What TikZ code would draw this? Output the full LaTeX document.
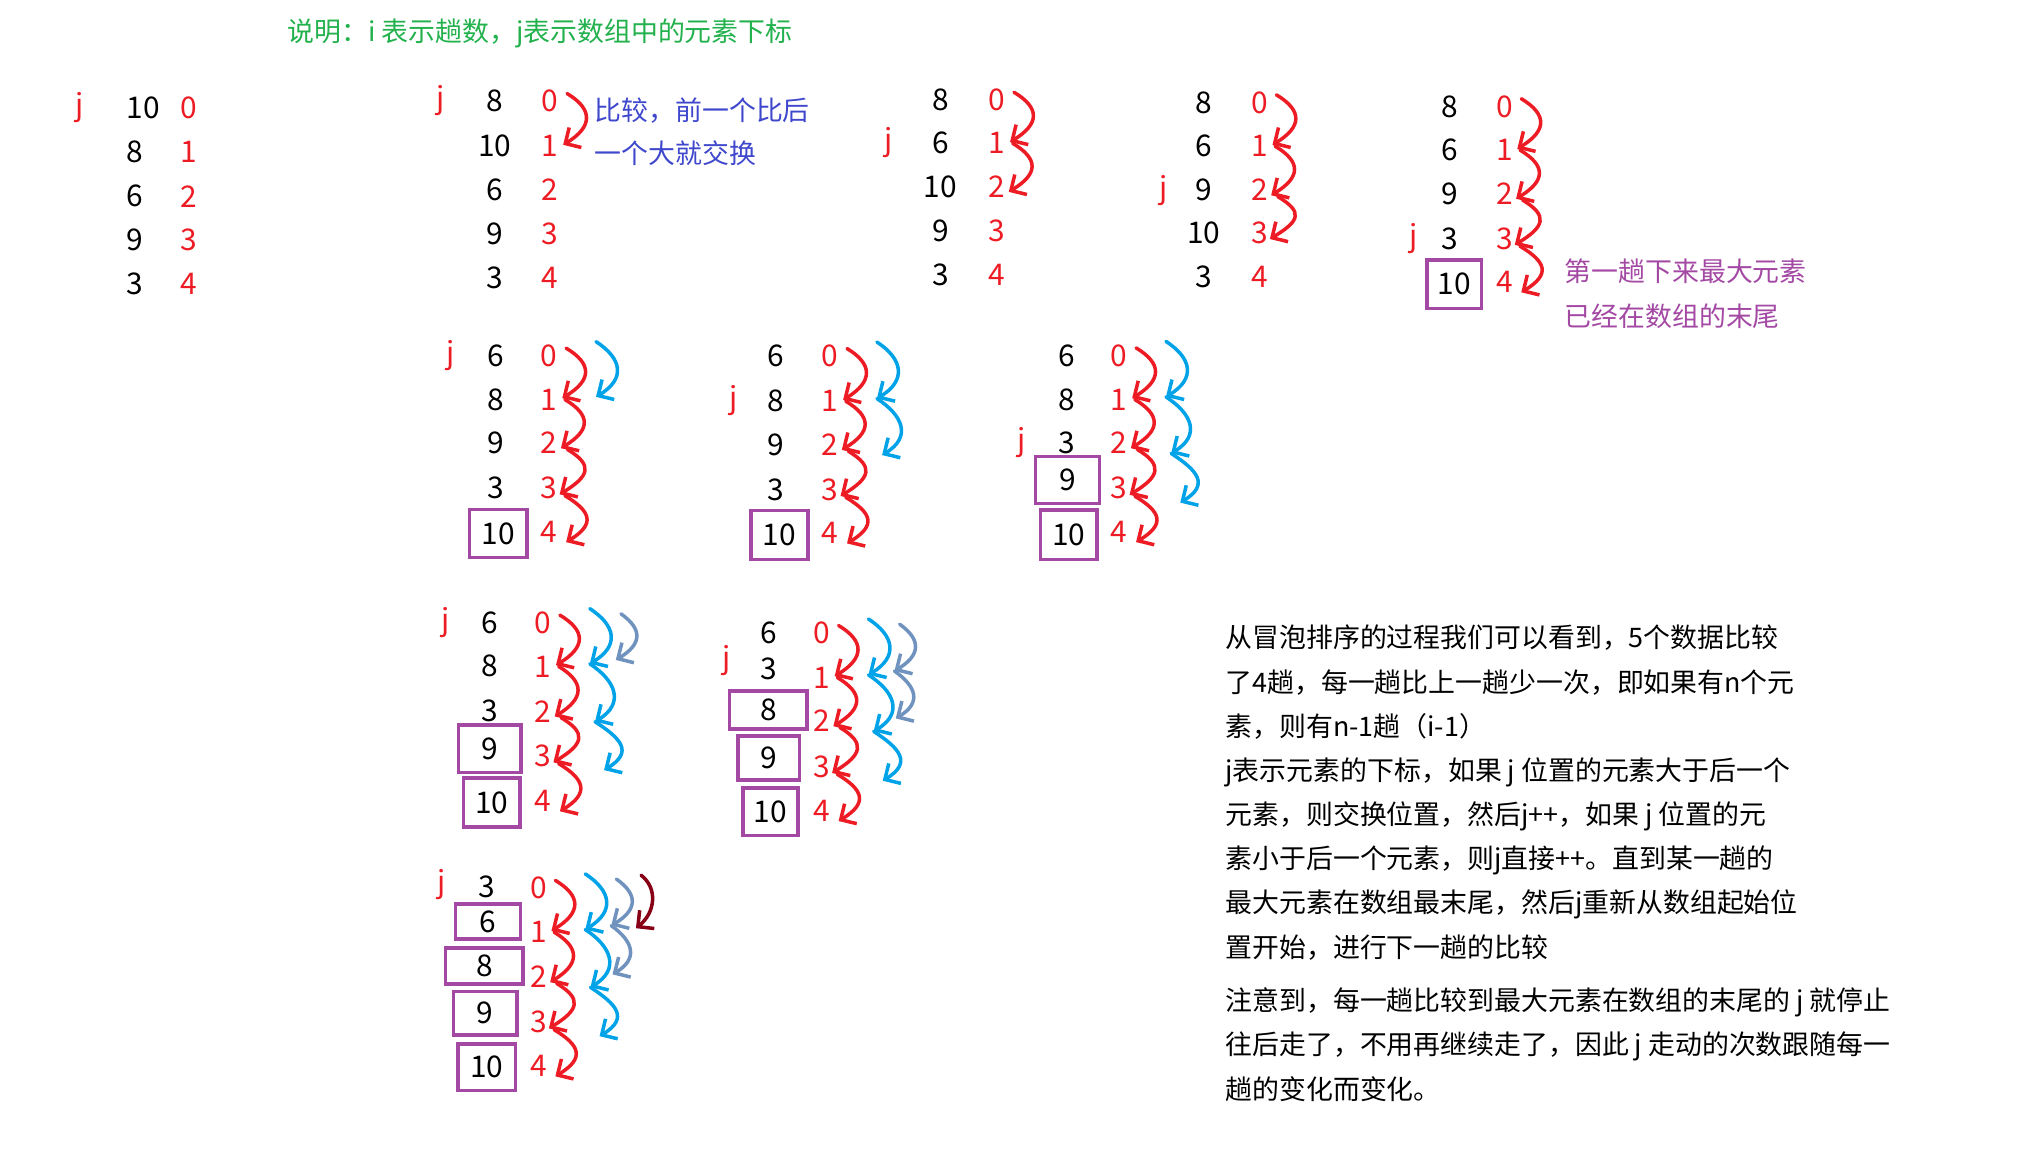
\documentclass[tikz,border=0pt]{standalone}
\usepackage{fontspec}
\setmainfont{Noto Sans CJK SC}
\usetikzlibrary{arrows.meta}
\definecolor{mspred}{RGB}{237,28,36}
\definecolor{mspgreen}{RGB}{34,177,76}
\definecolor{mspindigo}{RGB}{63,72,204}
\definecolor{msppurple}{RGB}{163,73,164}
\definecolor{mspsky}{RGB}{0,162,232}
\definecolor{mspsteel}{RGB}{112,146,190}
\definecolor{mspwine}{RGB}{136,0,21}
\tikzset{
  val/.style={inner sep=0pt, font=\fontsize{11.5pt}{13pt}\selectfont},
  idx/.style={val, text=mspred},
  jmark/.style={val, text=mspred},
  cell/.style={val, draw=msppurple, line width=1.4pt},
  note/.style={inner sep=0pt, anchor=base west, font=\fontsize{10.35pt}{17pt}\selectfont},
  hop/.style={-{Straight Barb[length=4.5pt,width=9pt]}, line width=1.35pt, line cap=round, line join=round}
}
\begin{document}
\begin{tikzpicture}[x=0.5pt,y=-0.5pt]
  \useasboundingbox (0,0) rectangle (1568,887);
  \node[note, text=mspgreen] (legend) at (221,32) {说明：i 表示趟数，j表示数组中的元素下标};

  \node[jmark] (Aj) at (61,83) {j};
  \foreach \v/\y [count=\k from 0] in {10/83.4,8/117,6/151,9/185,3/218.5} {
    \node[val, anchor=west] (Av\k) at (97,\y) {\v};
    \node[idx] (Ai\k) at (145,\y) {\k};
  }

  \node[jmark] (Bj) at (339.4,77.5) {j};
  \foreach \v/\y [count=\k from 0] in {8/78,10/112.5,6/146.3,9/180,3/214} {
    \node[val] (Bv\k) at (381,\y) {\v};
    \node[idx] (Bi\k) at (423.5,\y) {\k};
  }
  \node[note, text=mspindigo] (swaphint) at (457.4,92.5) {比较，前一个比后};
  \node[note, text=mspindigo] (swaphint2) at (457.4,126) {一个大就交换};

  \node[jmark] (Cj) at (684,110) {j};
  \foreach \v/\y [count=\k from 0] in {8/77,6/110.3,10/143.7,9/177.8,3/211.5} {
    \node[val] (Cv\k) at (724,\y) {\v};
    \node[idx] (Ci\k) at (767.5,\y) {\k};
  }

  \node[jmark] (Dj) at (896,146.5) {j};
  \foreach \v/\y [count=\k from 0] in {8/79,6/112.5,9/146.3,10/179,3/213} {
    \node[val] (Dv\k) at (926.5,\y) {\v};
    \node[idx] (Di\k) at (969.5,\y) {\k};
  }

  \node[jmark] (Ej) at (1088.5,184) {j};
  \foreach \v/\y [count=\k from 0] in {8/82,6/115.5,9/149,3/183.5}
    \node[val] (Ev\k) at (1116,\y) {\v};
  \node[cell, minimum width=21pt, minimum height=18.7pt] (Ev4) at (1119.5,218.7) {10};
  \foreach \y [count=\k from 0] in {82,115.5,149,183.5,217}
    \node[idx] (Ei\k) at (1158,\y) {\k};
  \node[note, text=msppurple] (tailhint) at (1204,217) {第一趟下来最大元素};
  \node[note, text=msppurple] (tailhint2) at (1204,251) {已经在数组的末尾};

  \node[jmark] (Fj) at (346.5,274) {j};
  \foreach \v/\y [count=\k from 0] in {6/274,8/307.5,9/341,3/375.5}
    \node[val] (Fv\k) at (381.4,\y) {\v};
  \node[cell, minimum width=22pt, minimum height=18.5pt] (Fv4) at (383.5,410.6) {10};
  \foreach \y [count=\k from 0] in {274,307.5,341,375.5,409.3}
    \node[idx] (Fi\k) at (422.8,\y) {\k};

  \node[jmark] (Gj) at (565,308.5) {j};
  \foreach \v/\y [count=\k from 0] in {6/274.3,8/308.8,9/342.3,3/376.8}
    \node[val] (Gv\k) at (597.5,\y) {\v};
  \node[cell, minimum width=22pt, minimum height=18.8pt] (Gv4) at (600,411.8) {10};
  \foreach \y [count=\k from 0] in {274.3,308.8,342.3,376.8,410.3}
    \node[idx] (Gi\k) at (639,\y) {\k};

  \node[jmark] (Hj) at (786.5,341) {j};
  \foreach \v/\y [count=\k from 0] in {6/273.8,8/307.5,3/341}
    \node[val] (Hv\k) at (821,\y) {\v};
  \node[cell, minimum width=24.7pt, minimum height=18pt] (Hv3) at (821.7,369.5) {9};
  \node[cell, minimum width=21.7pt, minimum height=19pt] (Hv4) at (822.7,411.6) {10};
  \foreach \y [count=\k from 0] in {273.8,307.5,341,375.9,409.3}
    \node[idx] (Hi\k) at (861.5,\y) {\k};

  \node[jmark] (Ij) at (343,479) {j};
  \foreach \v/\y [count=\k from 0] in {6/479.5,8/512.3,3/546.8}
    \node[val] (Iv\k) at (377,\y) {\v};
  \node[cell, minimum width=24pt, minimum height=18.1pt] (Iv3) at (377,576.4) {9};
  \node[cell, minimum width=21.8pt, minimum height=19pt] (Iv4) at (378.6,617.7) {10};
  \foreach \y [count=\k from 0] in {479.5,513,547.5,581.8,616.5}
    \node[idx] (Ii\k) at (418,\y) {\k};

  \node[jmark] (Jj) at (559,508.5) {j};
  \foreach \v/\y [count=\k from 0] in {6/487,3/514.5}
    \node[val] (Jv\k) at (592,\y) {\v};
  \node[cell, minimum width=30pt, minimum height=14.5pt] (Jv2) at (591.4,546.5) {8};
  \node[cell, minimum width=23.7pt, minimum height=17pt] (Jv3) at (591.8,583.5) {9};
  \node[cell, minimum width=21.2pt, minimum height=18.2pt] (Jv4) at (593,624.8) {10};
  \foreach \y [count=\k from 0] in {487.5,521.5,555,590,624}
    \node[idx] (Ji\k) at (632.5,\y) {\k};

  \node[jmark] (Kj) at (340,680.5) {j};
  \node[val] (Kv0) at (374.4,683) {3};
  \node[cell, minimum width=25pt, minimum height=13.6pt] (Kv1) at (375.7,709.4) {6};
  \node[cell, minimum width=30pt, minimum height=14pt] (Kv2) at (372.8,743.6) {8};
  \node[cell, minimum width=24.5pt, minimum height=16.9pt] (Kv3) at (373.5,780) {9};
  \node[cell, minimum width=22.1pt, minimum height=18pt] (Kv4) at (374.7,821.4) {10};
  \foreach \y [count=\k from 0] in {683.7,717.5,752,786.6,820.5}
    \node[idx] (Ki\k) at (414.5,\y) {\k};

  \foreach \blk/\n in {B/1,C/2,D/3,E/4,F/4,G/4,H/4,I/4,J/4,K/4} {
    \foreach \p/\q/\sx/\sy/\ex/\ey in {0/1/13/-6/10/-1,1/2/12/0/9/4,2/3/14/5/8/5,3/4/12/6/13/8} {
      \ifnum\q>\n\else
        \draw[hop, mspred] ([shift={(\sx,\sy)}]\blk i\p.center) .. controls +(20,12) and +(23,-14) .. ([shift={(\ex,\ey)}]\blk i\q.center);
      \fi
    }
  }
  \foreach \blk/\n in {F/1,G/2,H/3,I/3,J/3,K/3} {
    \foreach \p/\q/\sx/\sy/\ex/\ey in {0/1/36/-11/36/-2,1/2/36/-2/40/8,2/3/40/8/47/11} {
      \ifnum\q>\n\else
        \draw[hop, mspsky] ([shift={(\sx,\sy)}]\blk i\p.center) .. controls +(20,13) and +(23,-14) .. ([shift={(\ex,\ey)}]\blk i\q.center);
      \fi
    }
  }
  \foreach \blk/\n in {I/1,J/2,K/2} {
    \foreach \p/\q/\sx/\sy/\ex/\ey in {0/1/60/-7/56/-5,1/2/56/-5/57/-2} {
      \ifnum\q>\n\else
        \draw[hop, mspsteel] ([shift={(\sx,\sy)}]\blk i\p.center) .. controls +(17,12) and +(20,-12) .. ([shift={(\ex,\ey)}]\blk i\q.center);
      \fi
    }
  }
  \draw[hop, mspwine] ([shift={(79,-10)}]Ki0.center) .. controls +(13,10) and +(15,-12) .. ([shift={(75,-3)}]Ki1.center);

  \foreach \t [count=\k from 0] in {从冒泡排序的过程我们可以看到，5个数据比较, 了4趟，每一趟比上一趟少一次，即如果有n个元, 素，则有n-1趟（i-1）, j表示元素的下标，如果 j 位置的元素大于后一个, 元素，则交换位置，然后j++，如果 j 位置的元, 素小于后一个元素，则j直接++。直到某一趟的, 最大元素在数组最末尾，然后j重新从数组起始位, 置开始，进行下一趟的比较}
    \node[note] (story\k) at (943,498.7+34*\k) {\t};
  \foreach \t [count=\k from 0] in {注意到，每一趟比较到最大元素在数组的末尾的 j 就停止, 往后走了，不用再继续走了，因此 j 走动的次数跟随每一, 趟的变化而变化。}
    \node[note] (remark\k) at (943,778+34*\k) {\t};
\end{tikzpicture}
\end{document}
